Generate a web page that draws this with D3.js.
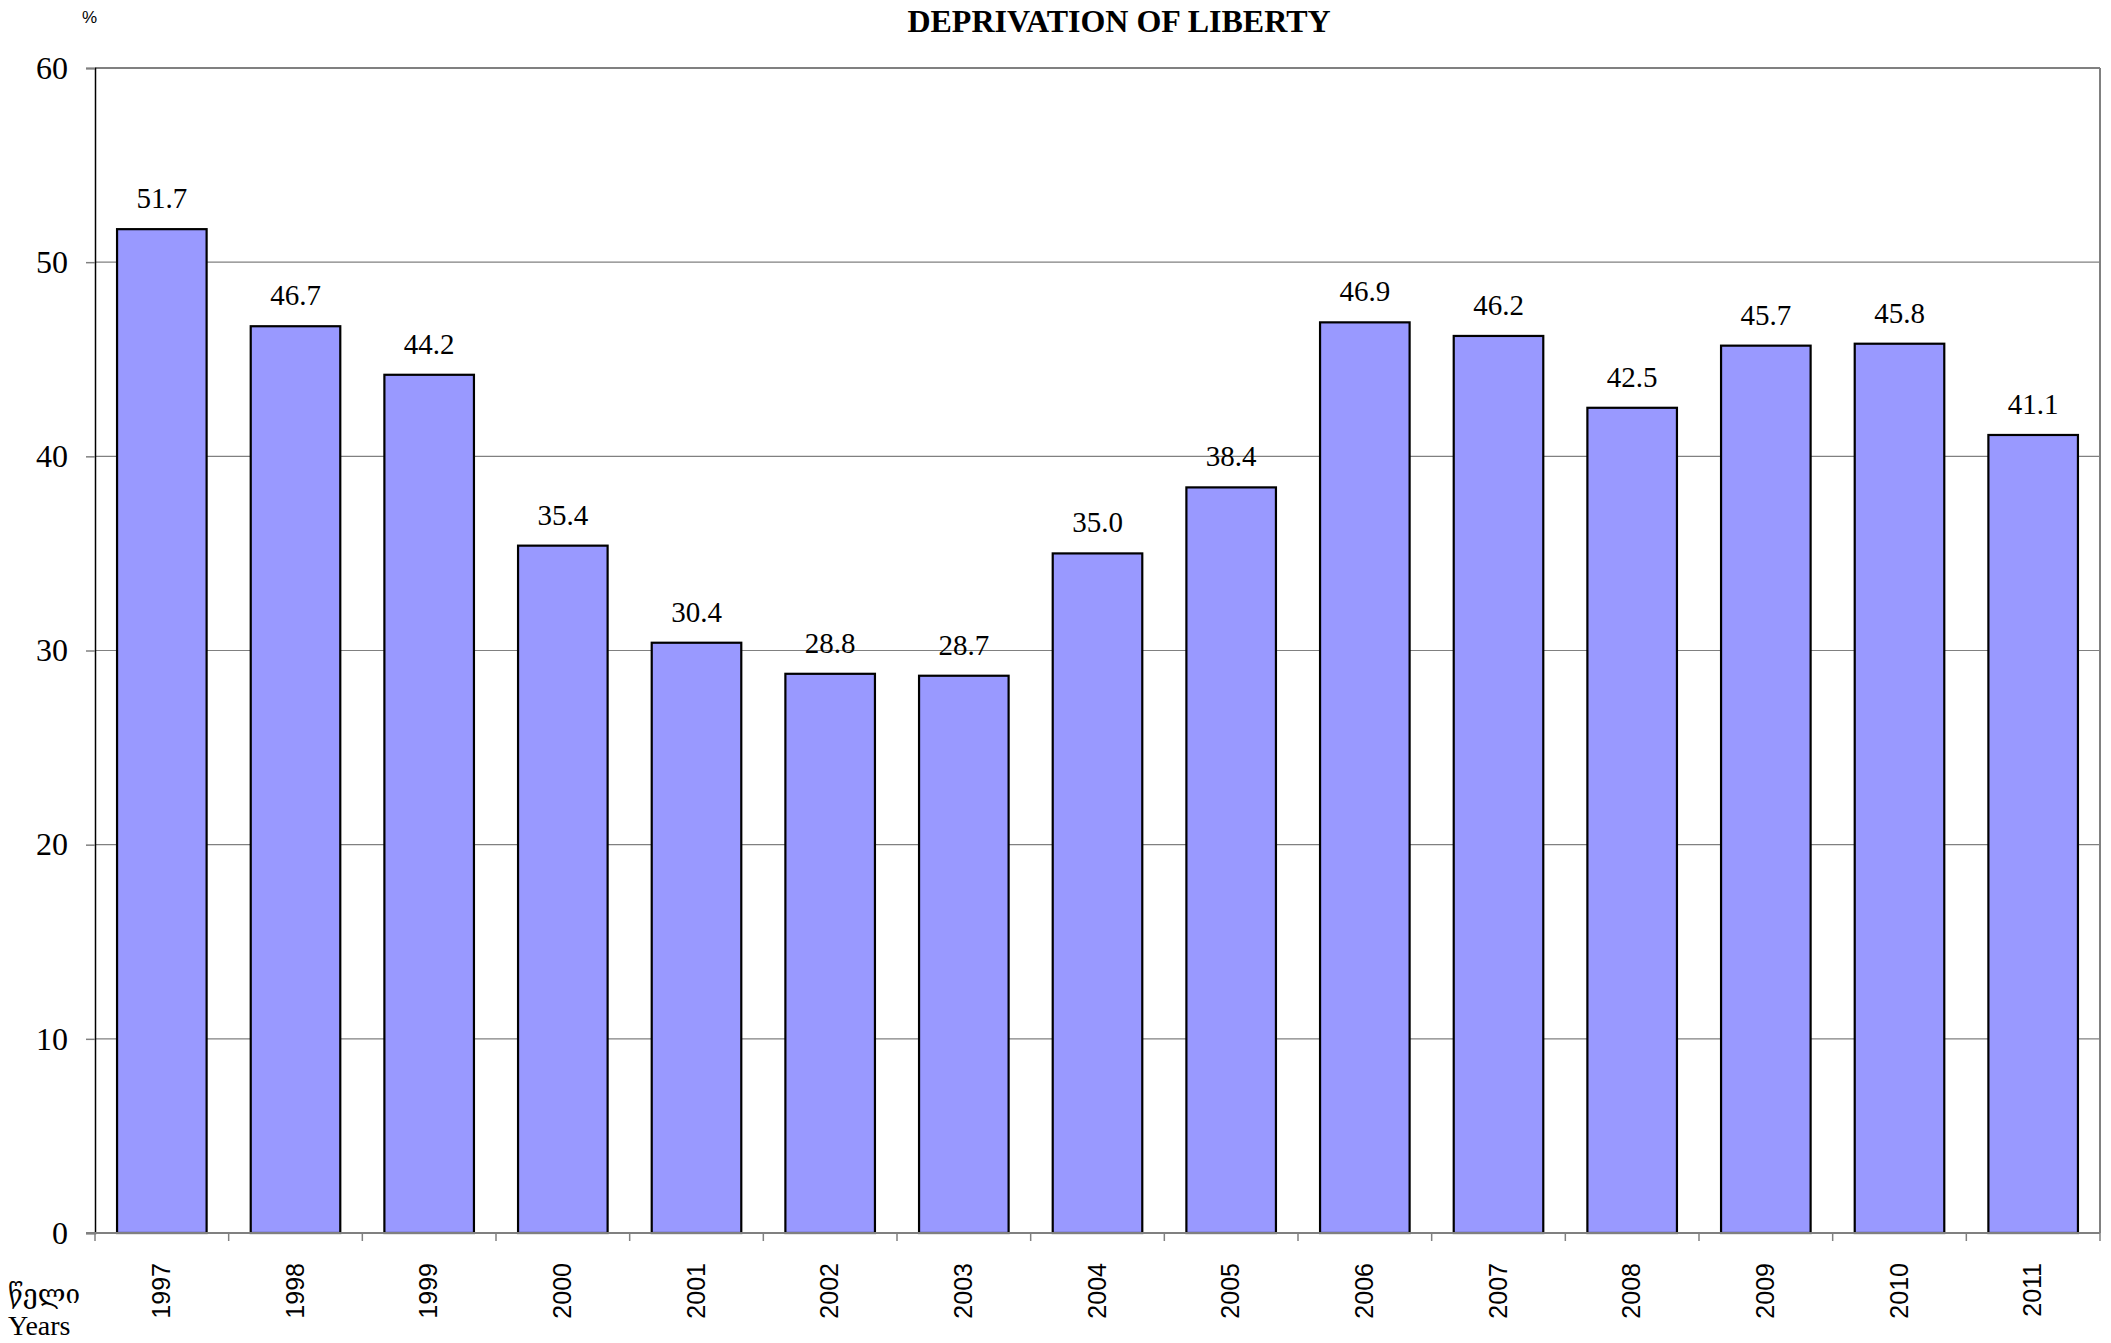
<!DOCTYPE html>
<html>
<head>
<meta charset="utf-8">
<script src="https://cdn.jsdelivr.net/npm/d3@7"></script>
<style>
  html, body { margin: 0; padding: 0; background: #fff; }
  svg { display: block; }
</style>
</head>
<body>
<div id="chart"></div>
<script>
// data
const years = ['1997', '1998', '1999', '2000', '2001', '2002', '2003', '2004',
  '2005', '2006', '2007', '2008', '2009', '2010', '2011'];
const values = [51.7, 46.7, 44.2, 35.4, 30.4, 28.8, 28.7, 35.0, 38.4, 46.9, 46.2, 42.5, 45.7, 45.8, 41.1];
const yTicks = [0, 10, 20, 30, 40, 50, 60];

const outerWidth = 2111;
const outerHeight = 1343;
const margin = { top: 68, right: 11, bottom: 110, left: 95 };
const width = outerWidth - margin.left - margin.right;
const height = outerHeight - margin.top - margin.bottom;

const svg = d3.select('#chart')
  .append('svg')
  .attr('width', outerWidth)
  .attr('height', outerHeight);

const g = svg.append('g')
  .attr('transform', `translate(${margin.left}, ${margin.top})`);

// scales
const x = d3.scaleBand()
  .domain(years)
  .range([0, width])
  .paddingInner(0.33)
  .paddingOuter(0.165);

const y = d3.scaleLinear()
  .domain([0, 60])
  .range([height, 0]);

// gridlines
g.append('g')
  .selectAll('line')
  .data(yTicks.filter(d => d > 0))
  .join('line')
  .attr('x1', 0)
  .attr('x2', width)
  .attr('y1', d => y(d))
  .attr('y2', d => y(d))
  .attr('stroke', '#808080')
  .attr('stroke-width', d => d === 60 ? 2 : 1.2);

// right frame
g.append('line')
  .attr('x1', width).attr('x2', width)
  .attr('y1', 0).attr('y2', height)
  .attr('stroke', '#808080')
  .attr('stroke-width', 2);

// bars
g.append('g')
  .selectAll('rect')
  .data(values)
  .join('rect')
  .attr('x', (d, i) => x(years[i]))
  .attr('y', d => y(d))
  .attr('width', x.bandwidth())
  .attr('height', d => height - y(d))
  .attr('fill', '#9999FF')
  .attr('stroke', '#000')
  .attr('stroke-width', 2.2);

// value labels
g.append('g')
  .selectAll('text')
  .data(values)
  .join('text')
  .attr('x', (d, i) => x(years[i]) + x.bandwidth() / 2)
  .attr('y', d => y(d) - 21)
  .attr('text-anchor', 'middle')
  .attr('font-family', '"Liberation Serif", "Times New Roman", serif')
  .attr('font-size', 29)
  .text(d => d.toFixed(1));

// y axis
const yAxis = d3.axisLeft(y)
  .tickValues(yTicks)
  .tickSize(9)
  .tickPadding(18)
  .tickFormat(d3.format('d'));

const gy = g.append('g').call(yAxis);
gy.select('.domain').attr('stroke', '#000').attr('stroke-width', 1.5);
gy.selectAll('.tick line').attr('stroke', '#808080').attr('stroke-width', 1.5);
gy.selectAll('.tick text')
  .attr('font-family', '"Liberation Serif", "Times New Roman", serif')
  .attr('font-size', 32)
  .attr('fill', '#000');

// x axis: ticks at band boundaries
const boundaries = d3.range(years.length + 1).map(i => i * width / years.length);
const gx = g.append('g').attr('transform', `translate(0, ${height})`);
gx.append('line')
  .attr('x1', -9).attr('x2', width)
  .attr('y1', 0).attr('y2', 0)
  .attr('stroke', '#808080')
  .attr('stroke-width', 2);
gx.selectAll('line.tk')
  .data(boundaries)
  .join('line')
  .attr('class', 'tk')
  .attr('x1', d => d).attr('x2', d => d)
  .attr('y1', 0).attr('y2', 8)
  .attr('stroke', '#808080')
  .attr('stroke-width', 1.5);
gx.selectAll('text')
  .data(years)
  .join('text')
  .attr('transform', d => `translate(${x(d) + x.bandwidth() / 2 + 8}, 30) rotate(-90)`)
  .attr('text-anchor', 'end')
  .attr('font-family', '"Liberation Sans", Arial, sans-serif')
  .attr('font-size', 25)
  .text(d => d);

// title and side labels
svg.append('text')
  .attr('x', 1119)
  .attr('y', 32)
  .attr('text-anchor', 'middle')
  .attr('font-family', '"Liberation Serif", "Times New Roman", serif')
  .attr('font-weight', 'bold')
  .attr('font-size', 32)
  .text('DEPRIVATION OF LIBERTY');

svg.append('text')
  .attr('x', 82)
  .attr('y', 23)
  .attr('font-family', '"Liberation Sans", Arial, sans-serif')
  .attr('font-size', 17)
  .text('%');

svg.append('text')
  .attr('x', 8)
  .attr('y', 1303)
  .attr('font-family', '"Liberation Serif", "DejaVu Serif", serif')
  .attr('font-size', 26)
  .text('წელი');

svg.append('text')
  .attr('x', 8)
  .attr('y', 1335)
  .attr('font-family', '"Liberation Serif", "Times New Roman", serif')
  .attr('font-size', 28)
  .text('Years');
</script>
</body>
</html>
